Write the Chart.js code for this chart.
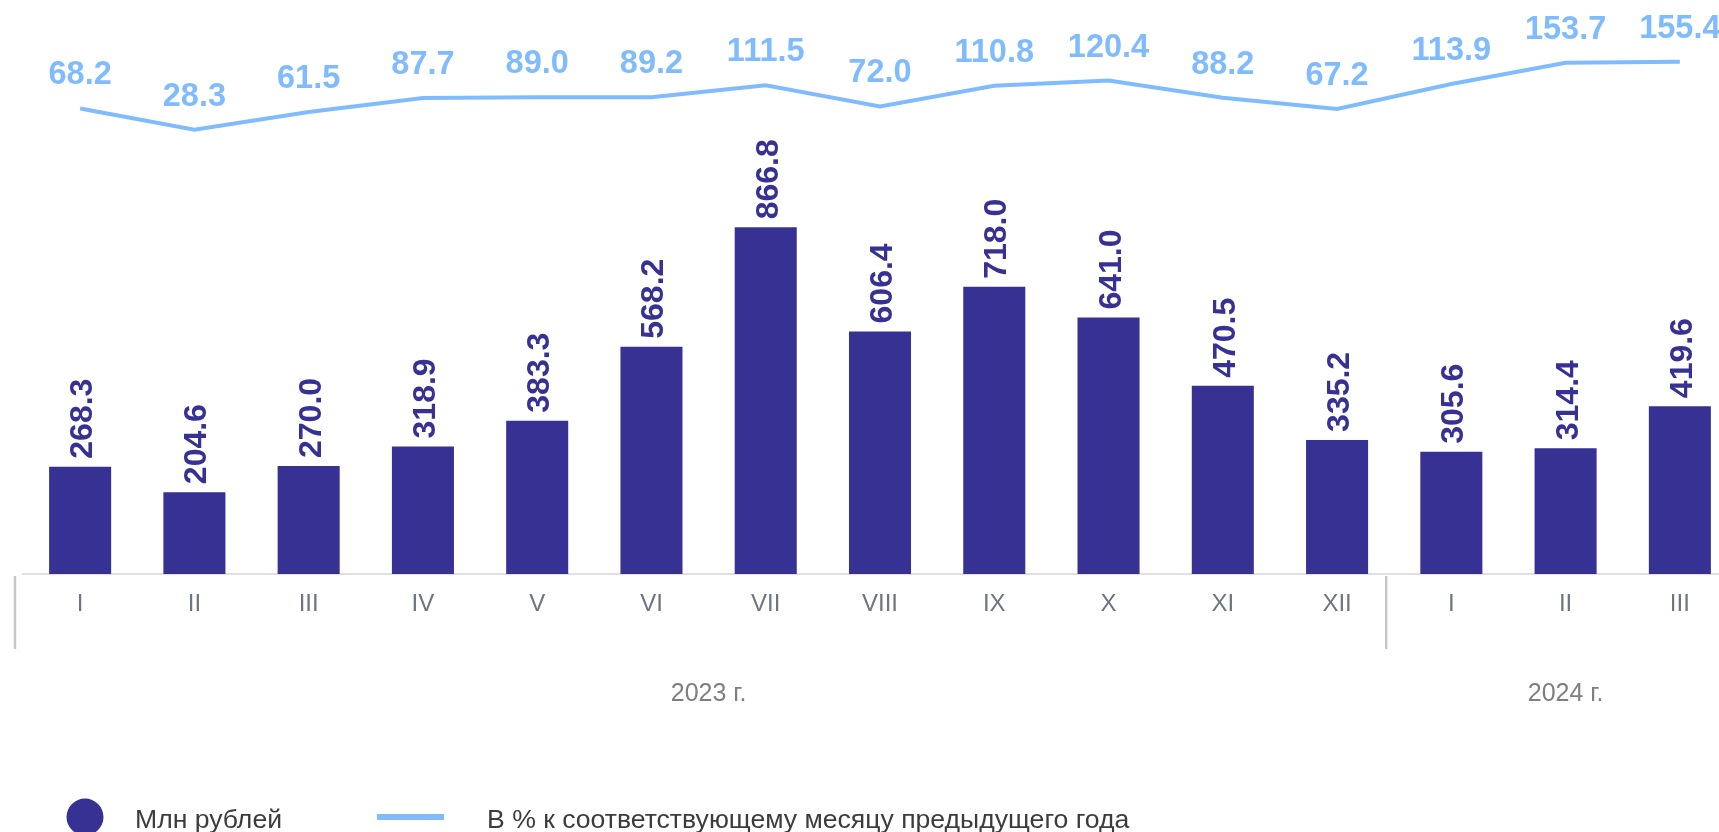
<!DOCTYPE html>
<html lang="ru">
<head>
<meta charset="utf-8">
<title>Млн рублей и % к соответствующему месяцу предыдущего года</title>
<script src="https://cdn.jsdelivr.net/npm/chart.js@4/dist/chart.umd.min.js"></script>
<style>
  html, body { margin: 0; padding: 0; background: #fff; overflow: hidden; }
  #wrap { position: relative; width: 1737px; height: 832px; }
</style>
</head>
<body>
<div id="wrap"><canvas id="monthChart"></canvas></div>
<script>
// data
const months = ['I', 'II', 'III', 'IV', 'V', 'VI', 'VII', 'VIII', 'IX', 'X', 'XI', 'XII', 'I', 'II', 'III'];
const years = ['2023 г.', '2024 г.'];
const monthsPerYear = [12, 3];
const mlnRub = [268.3, 204.6, 270.0, 318.9, 383.3, 568.2, 866.8, 606.4, 718.0, 641.0, 470.5, 335.2, 305.6, 314.4, 419.6];
const pctPrevYear = [68.2, 28.3, 61.5, 87.7, 89.0, 89.2, 111.5, 72.0, 110.8, 120.4, 88.2, 67.2, 113.9, 153.7, 155.4];
const seriesNames = ['Млн рублей', 'В % к соответствующему месяцу предыдущего года'];

const barColor = '#363193';
const lineColor = '#80bcfd';
const fontFamily = '"Liberation Sans", Arial, sans-serif';

// value labels over bars (rotated) and over line points
const valueLabels = {
  id: 'valueLabels',
  afterDatasetsDraw(chart) {
    const ctx = chart.ctx;
    const bars = chart.getDatasetMeta(0).data;
    const points = chart.getDatasetMeta(1).data;
    ctx.save();
    ctx.fillStyle = barColor;
    ctx.font = 'bold 32px ' + fontFamily;
    ctx.textAlign = 'left';
    ctx.textBaseline = 'alphabetic';
    bars.forEach((bar, i) => {
      ctx.save();
      ctx.translate(bar.x + 12, bar.y - 8);
      ctx.rotate(-Math.PI / 2);
      ctx.fillText(mlnRub[i].toFixed(1), 0, 0);
      ctx.restore();
    });
    ctx.fillStyle = lineColor;
    ctx.font = 'bold 32.5px ' + fontFamily;
    ctx.textAlign = 'center';
    points.forEach((pt, i) => {
      ctx.fillText(pctPrevYear[i].toFixed(1), pt.x, pt.y - 24);
    });
    ctx.restore();
  }
};

// year captions and separators under the month axis
const yearGroups = {
  id: 'yearGroups',
  afterDraw(chart) {
    const ctx = chart.ctx;
    const x = chart.scales.x;
    const bottom = chart.chartArea.bottom;
    let start = 0;
    ctx.save();
    years.forEach((label, k) => {
      const end = start + monthsPerYear[k] - 1;
      const sepX = x.getPixelForValue(start - 0.5) - 8;
      ctx.strokeStyle = '#c6c6c6';
      ctx.lineWidth = 2.5;
      ctx.beginPath();
      ctx.moveTo(sepX, bottom + 2);
      ctx.lineTo(sepX, bottom + 75);
      ctx.stroke();

      ctx.fillStyle = '#7f7f7f';
      ctx.font = '25px ' + fontFamily;
      ctx.textAlign = 'center';
      ctx.textBaseline = 'middle';
      ctx.fillText(label, x.getPixelForValue((start + end) / 2), bottom + 120);
      start = end + 1;
    });
    ctx.restore();
  }
};

// legend at the bottom left
const bottomLegend = {
  id: 'bottomLegend',
  afterDraw(chart) {
    const ctx = chart.ctx;
    const y = 817;
    const ds = chart.data.datasets;
    ctx.save();
    ctx.fillStyle = ds[0].backgroundColor;
    ctx.beginPath();
    ctx.arc(85, y, 18.5, 0, Math.PI * 2);
    ctx.fill();

    ctx.strokeStyle = ds[1].borderColor;
    ctx.lineWidth = 6;
    ctx.beginPath();
    ctx.moveTo(377, y);
    ctx.lineTo(444, y);
    ctx.stroke();

    ctx.fillStyle = '#3c3c3c';
    ctx.font = '26.6px ' + fontFamily;
    ctx.textAlign = 'left';
    ctx.textBaseline = 'middle';
    ctx.fillText(ds[0].label, 135, y + 4);
    ctx.fillText(ds[1].label, 487, y + 4);
    ctx.restore();
  }
};

const ctx = document.getElementById('monthChart').getContext('2d');
const monthChart = new Chart(ctx, {
  data: {
    labels: months,
    datasets: [{
      type: 'bar',
      label: seriesNames[0],
      data: mlnRub,
      backgroundColor: barColor,
      categoryPercentage: 1,
      barPercentage: 0.543,
      yAxisID: 'y',
      order: 2
    }, {
      type: 'line',
      label: seriesNames[1],
      data: pctPrevYear,
      borderColor: lineColor,
      backgroundColor: lineColor,
      borderWidth: 4,
      pointRadius: 0,
      tension: 0,
      yAxisID: 'y1',
      order: 1
    }]
  },
  options: {
    responsive: true,
    maintainAspectRatio: false,
    animation: false,
    layout: { padding: { left: 23, right: 0, top: 0, bottom: 0 } },
    plugins: {
      legend: { display: false },
      tooltip: { enabled: false }
    },
    scales: {
      x: {
        offset: true,
        grid: { display: false },
        border: { display: true, color: '#dfdfe5', width: 2 },
        ticks: {
          color: '#6e7480',
          font: { family: fontFamily, size: 24 },
          padding: 8,
          maxRotation: 0,
          autoSkip: false
        },
        afterFit(scale) { scale.height = 258; }
      },
      y: { display: false, min: 0, max: 1435 },
      y1: { display: false, min: -802, max: 271 }
    }
  },
  plugins: [valueLabels, yearGroups, bottomLegend]
});
</script>
</body>
</html>
